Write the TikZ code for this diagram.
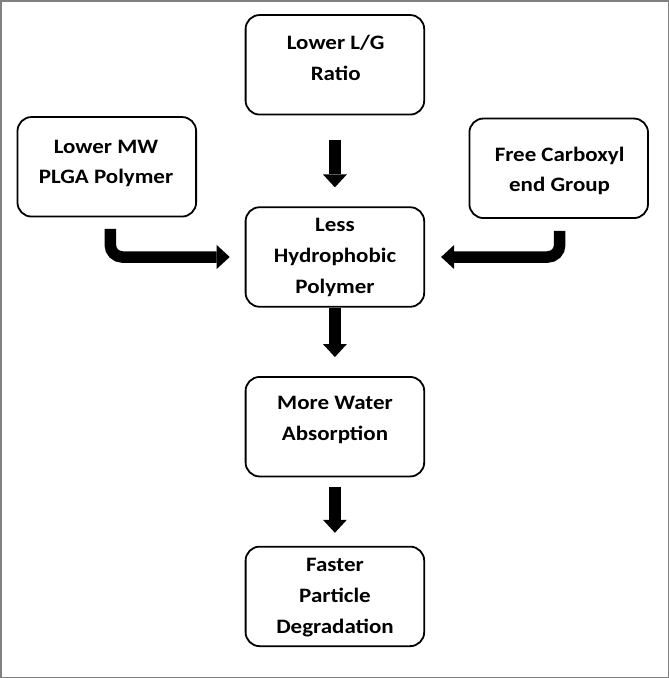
\documentclass[tikz,border=0pt]{standalone}
\usepackage{fontspec}
\setmainfont{Carlito}[FakeStretch=1.12]
\usetikzlibrary{arrows.meta,calc}
\tikzset{
  box/.style={draw, line width=1.8pt, rounded corners=14pt, minimum width=178.6pt, minimum height=99.5pt, inner sep=0pt},
  lbl/.style={align=center, inner sep=0pt, font=\fontsize{20.5}{30.7}\selectfont\bfseries},
  bigarrow/.style={line width=11.5pt, -{Triangle[length=13pt,width=24pt,line width=0pt]}},
}
\begin{document}
\begin{tikzpicture}[x=1pt,y=-1pt]
\useasboundingbox (0,0) rectangle (669,678);
\fill[white] (0,0) rectangle (669,678);
\draw[black!50, line width=1.5pt] (0.75,0.75) rectangle (668.25,677.25);

\node[box] (top) at (334.9,64.8) {};
\node[box] (lbox) at (106.8,166.8) {};
\node[box] (rbox) at (558.7,168.3) {};
\node[box] (mid) at (334.9,257) {};
\node[box] (water) at (334.9,426.7) {};
\node[box] (fast) at (334.9,596.4) {};

\node[lbl] (ttop) at (335.7,58.1) {Lower L/G\\Ratio};
\node[lbl] (tl) at (106,163.5) {Lower MW\\PLGA Polymer};
\node[lbl] (tr) at (559.6,171) {Free Carboxyl\\end Group};
\node[lbl] (tmid) at (335,257.6) {Less\\Hydrophobic\\Polymer};
\node[lbl] (twater) at (335,419.8) {More Water\\Absorption};
\node[lbl] (tfast) at (335,597.7) {Faster\\Particle\\Degradation};

\draw[bigarrow, shorten <=24.5pt, shorten >=19pt] (top.south) -- (mid.north);
\draw[bigarrow, shorten >=19pt] (mid.south) -- (water.north);
\draw[bigarrow, shorten <=10pt, shorten >=13pt] (water.south) -- (fast.north);
\draw[bigarrow, rounded corners=12pt, shorten >=15pt] ($(lbox.south)+(3.5,11.5)$) |- (mid.west);
\draw[bigarrow, rounded corners=12pt, shorten >=16pt] ($(rbox.south)+(1,12)$) |- (mid.east);
\end{tikzpicture}
\end{document}
